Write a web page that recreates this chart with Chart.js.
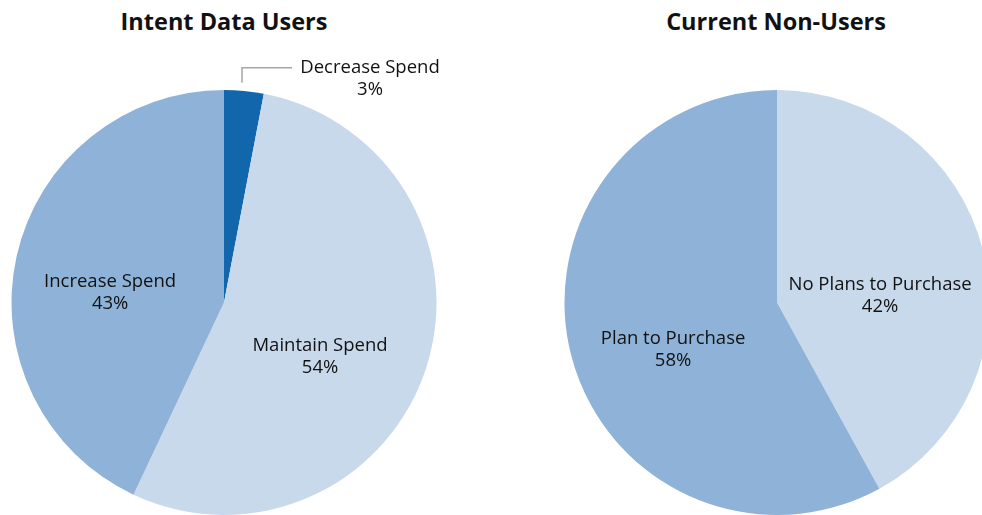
<!DOCTYPE html>
<html>
<head>
<meta charset="utf-8">
<script src="https://cdn.jsdelivr.net/npm/chart.js@4"></script>
<style>
    html, body { margin: 0; padding: 0; background: #fff; overflow: hidden; width: 982px; height: 515px; }
    .title { position: absolute; top: 5px; font: bold 23.5px "Open Sans", sans-serif; color: #111; text-align: center; width: 400px; }
    .box { position: absolute; top: 0; height: 515px; }
</style>
</head>
<body>
<div class="title" style="left: 24px;">Intent Data Users</div>
<div class="title" style="left: 576px;">Current Non-Users</div>
<div class="box" style="left: 0; width: 491px;"><canvas id="usersChart"></canvas></div>
<div class="box" style="left: 491px; width: 520px;"><canvas id="nonUsersChart"></canvas></div>
<script>
// 数据
const usersLabels = ['Decrease Spend', 'Maintain Spend', 'Increase Spend'];
const usersValues = [3, 54, 43];
const usersColors = ['#1166AC', '#C9D9EC', '#8FB3D8'];

const nonUsersLabels = ['No Plans to Purchase', 'Plan to Purchase'];
const nonUsersValues = [42, 58];
const nonUsersColors = ['#C9D9EC', '#8FB3D8'];

// 标签位置（相对于圆心，单位为半径）
const usersLabelPos = [null, [0.452, 0.256], [-0.536, -0.045]];
const nonUsersLabelPos = [[0.485, -0.03], [-0.489, 0.224]];

const labelFont = '18.5px "Open Sans", sans-serif';

function drawLabel(ctx, text, value, x, y) {
    ctx.fillText(text, x, y - 11);
    ctx.fillText(value + '%', x, y + 11);
}

function pieLabels(positions, calloutIndex) {
    return {
        id: 'pieLabels',
        afterDatasetsDraw(chart) {
            const ctx = chart.ctx;
            const meta = chart.getDatasetMeta(0);
            const values = chart.data.datasets[0].data;
            ctx.save();
            ctx.font = labelFont;
            ctx.fillStyle = '#111';
            ctx.textAlign = 'center';
            ctx.textBaseline = 'middle';
            meta.data.forEach((arc, i) => {
                const r = arc.outerRadius;
                if (i === calloutIndex) {
                    // 引导线
                    const start = arc.startAngle + (arc.endAngle - arc.startAngle) * 0.45;
                    const px = arc.x + Math.cos(start) * r;
                    const py = arc.y + Math.sin(start) * r;
                    ctx.strokeStyle = '#A6A6A6';
                    ctx.lineWidth = 1.5;
                    ctx.beginPath();
                    ctx.moveTo(px, py - 8);
                    ctx.lineTo(px, py - 23);
                    ctx.lineTo(px + 50, py - 23);
                    ctx.stroke();
                    drawLabel(ctx, chart.data.labels[i], values[i], px + 128, py - 12);
                    return;
                }
                const p = positions[i];
                drawLabel(ctx, chart.data.labels[i], values[i], arc.x + p[0] * r, arc.y + p[1] * r);
            });
            ctx.restore();
        }
    };
}

function makePie(id, labels, values, colors, padding, plugin) {
    const ctx = document.getElementById(id).getContext('2d');
    return new Chart(ctx, {
        type: 'pie',
        data: {
            labels: labels,
            datasets: [{
                data: values,
                backgroundColor: colors,
                borderWidth: 0
            }]
        },
        options: {
            responsive: true,
            maintainAspectRatio: false,
            animation: false,
            layout: { padding: padding },
            plugins: {
                legend: { display: false },
                tooltip: { enabled: false }
            }
        },
        plugins: [plugin]
    });
}

makePie('usersChart', usersLabels, usersValues, usersColors,
    { left: 11, right: 54, top: 90, bottom: 0 }, pieLabels(usersLabelPos, 0));
makePie('nonUsersChart', nonUsersLabels, nonUsersValues, nonUsersColors,
    { left: 73, right: 21, top: 90, bottom: 0 }, pieLabels(nonUsersLabelPos, -1));
</script>
</body>
</html>
